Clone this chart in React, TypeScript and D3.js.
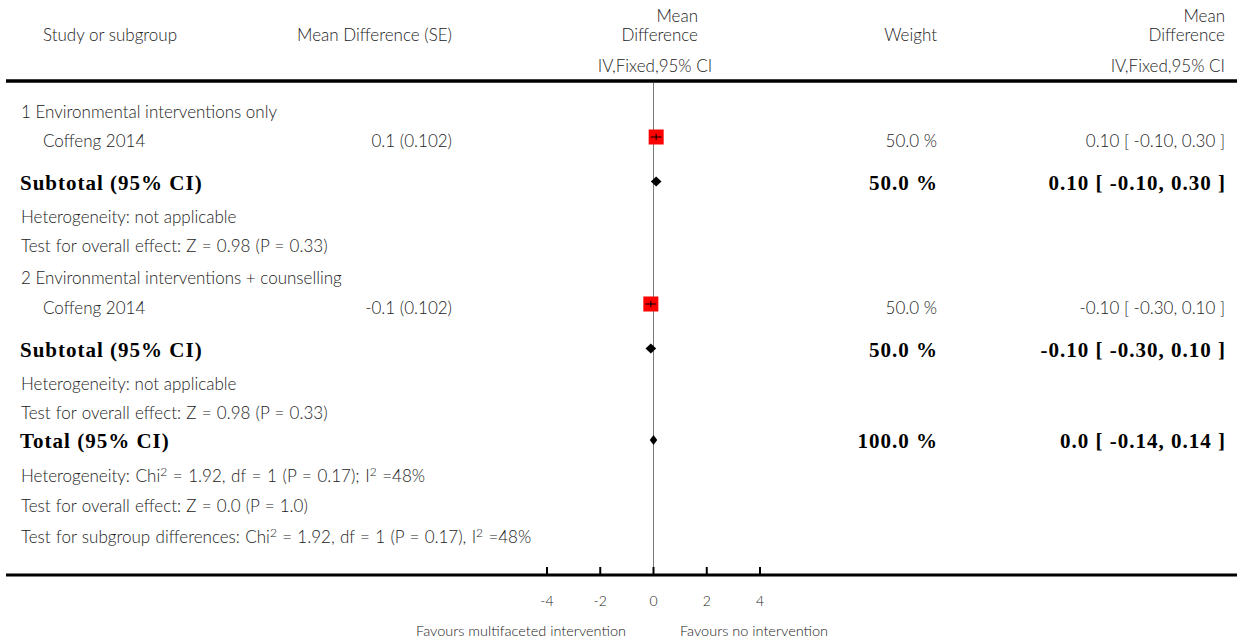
import React from "react";
import * as d3 from "d3";

// ---- data ----
const groupLabels = ["1 Environmental interventions only", "2 Environmental interventions + counselling"];
const studyNames = ["Coffeng 2014", "Coffeng 2014"];
const studyMD = [0.1, -0.1];
const studySE = ["0.102", "0.102"];
const studyLower = [-0.1, -0.3];
const studyUpper = [0.3, 0.1];
const studyWeight = [50.0, 50.0];
const subtotalMD = [0.1, -0.1];
const subtotalLower = [-0.1, -0.3];
const subtotalUpper = [0.3, 0.1];
const subtotalCI = ["0.10 [ -0.10, 0.30 ]", "-0.10 [ -0.30, 0.10 ]"];
const studyCI = ["0.10 [ -0.10, 0.30 ]", "-0.10 [ -0.30, 0.10 ]"];
const studyMDLabel = ["0.1", "-0.1"];
const subHet = ["Heterogeneity: not applicable", "Heterogeneity: not applicable"];
const subTest = ["Test for overall effect: Z = 0.98 (P = 0.33)", "Test for overall effect: Z = 0.98 (P = 0.33)"];
const totalMD = 0.0;
const totalLower = -0.14;
const totalUpper = 0.14;
const totalWeight = 100.0;
const totalCI = "0.0 [ -0.14, 0.14 ]";
const axisTicks = [-4, -2, 0, 2, 4];
const favoursLeft = "Favours multifaceted intervention";
const favoursRight = "Favours no intervention";

// ---- layout ----
const W = 1237;
const H = 642;
const SANS = "Lato, 'Open Sans', sans-serif";
const SERIF = "'Liberation Serif', 'DejaVu Serif', serif";
const TXT = "#222";
const groupRows = [
  { head: 118, study: 147, sub: 190, het: 223, test: 252 },
  { head: 284, study: 314, sub: 357, het: 390, test: 419 },
];
const totalRow = { main: 448, het: 482, test: 512, subgroup: 543 };

const x = d3.scaleLinear().domain([-4, 4]).range([547, 760]);

function Diamond({ lo, mid, hi, cy }: { lo: number; mid: number; hi: number; cy: number }) {
  const h = 5;
  const pts: [number, number][] = [
    [x(lo), cy],
    [x(mid), cy - h],
    [x(hi), cy],
    [x(mid), cy + h],
  ];
  return <path d={(d3.line()(pts) || "") + "Z"} fill="#000" />;
}

function Sup({ t }: { t: string }) {
  return (
    <tspan fontSize={12} dy={-6}>
      {t}
    </tspan>
  );
}

export default function App() {
  const sq = 15;
  const normal = { fontFamily: SANS, fontSize: 17, fontWeight: 300, fill: TXT } as const;
  const bold = { fontFamily: SERIF, fontSize: 21, fontWeight: 700, fill: "#000", letterSpacing: 1 } as const;
  return (
    <svg width={W} height={H} style={{ position: "absolute", left: 0, top: 0, background: "#fff" }}>
      {/* header */}
      <g {...normal}>
        <text x={43} y={41}>Study or subgroup</text>
        <text x={452} y={41} textAnchor="end">Mean Difference (SE)</text>
        <text x={698} y={22} textAnchor="end">Mean</text>
        <text x={698} y={41} textAnchor="end">Difference</text>
        <text x={655} y={72} textAnchor="middle">IV,Fixed,95% CI</text>
        <text x={937} y={41} textAnchor="end">Weight</text>
        <text x={1225} y={22} textAnchor="end">Mean</text>
        <text x={1225} y={41} textAnchor="end">Difference</text>
        <text x={1225} y={72} textAnchor="end">IV,Fixed,95% CI</text>
      </g>
      <line x1={6} x2={W} y1={81} y2={81} stroke="#000" strokeWidth={3.5} />

      {/* zero line */}
      <line x1={x(0)} x2={x(0)} y1={83} y2={575} stroke="#777" strokeWidth={1} />

      {groupRows.map((r, i) => (
        <g key={i}>
          <text {...normal} x={21} y={r.head}>{groupLabels[i]}</text>
          <text {...normal} x={43} y={r.study}>{studyNames[i]}</text>
          <text {...normal} x={452} y={r.study} textAnchor="end">
            {studyMDLabel[i]} ({studySE[i]})
          </text>
          <text {...normal} x={937} y={r.study} textAnchor="end">{studyWeight[i].toFixed(1)} %</text>
          <text {...normal} x={1225} y={r.study} textAnchor="end">{studyCI[i]}</text>
          <rect
            x={x(studyMD[i]) - sq / 2}
            y={r.study - 10 - sq / 2}
            width={sq}
            height={sq}
            fill="#ff0000"
          />
          <line
            x1={x(studyLower[i])}
            x2={x(studyUpper[i])}
            y1={r.study - 10}
            y2={r.study - 10}
            stroke="#000"
            strokeWidth={1}
          />
          <line x1={x(studyMD[i])} x2={x(studyMD[i])} y1={r.study - 13} y2={r.study - 7} stroke="#000" strokeWidth={1} />

          <text {...bold} x={20} y={r.sub}>Subtotal (95% CI)</text>
          <text {...bold} x={938} y={r.sub} textAnchor="end">{studyWeight[i].toFixed(1)} %</text>
          <text {...bold} x={1226} y={r.sub} textAnchor="end">{subtotalCI[i]}</text>
          <Diamond lo={subtotalLower[i]} mid={subtotalMD[i]} hi={subtotalUpper[i]} cy={r.sub - 8.5} />

          <text {...normal} x={21} y={r.het}>{subHet[i]}</text>
          <text {...normal} x={21} y={r.test} wordSpacing={0.6}>{subTest[i]}</text>
        </g>
      ))}

      <text {...bold} x={20} y={totalRow.main}>Total (95% CI)</text>
      <text {...bold} x={938} y={totalRow.main} textAnchor="end">{totalWeight.toFixed(1)} %</text>
      <text {...bold} x={1226} y={totalRow.main} textAnchor="end">{totalCI}</text>
      <Diamond lo={totalLower} mid={totalMD} hi={totalUpper} cy={totalRow.main - 8} />

      <text {...normal} x={21} y={totalRow.het} wordSpacing={1}>
        Heterogeneity: Chi<Sup t="2" />
        <tspan dy={6}> = 1.92, df = 1 (P = 0.17); I</tspan>
        <Sup t="2" />
        <tspan dy={6}> =48%</tspan>
      </text>
      <text {...normal} x={21} y={totalRow.test} wordSpacing={0.6}>Test for overall effect: Z = 0.0 (P = 1.0)</text>
      <text {...normal} x={21} y={totalRow.subgroup} wordSpacing={0.7}>
        Test for subgroup differences: Chi<Sup t="2" />
        <tspan dy={6}> = 1.92, df = 1 (P = 0.17), I</tspan>
        <Sup t="2" />
        <tspan dy={6}> =48%</tspan>
      </text>

      {/* axis */}
      <line x1={6} x2={W} y1={575} y2={575} stroke="#000" strokeWidth={3} />
      {axisTicks.map((t) => (
        <g key={t}>
          <line x1={x(t)} x2={x(t)} y1={567} y2={575} stroke="#000" strokeWidth={2} />
          <text x={x(t)} y={606} textAnchor="middle" fontFamily={SANS} fontWeight={300} fontSize={14} fill={TXT}>
            {t}
          </text>
        </g>
      ))}
      <text x={626} y={636} textAnchor="end" fontFamily={SANS} fontWeight={300} fontSize={14.5} fill={TXT}>{favoursLeft}</text>
      <text x={680} y={636} fontFamily={SANS} fontWeight={300} fontSize={14.5} fill={TXT}>{favoursRight}</text>
    </svg>
  );
}
